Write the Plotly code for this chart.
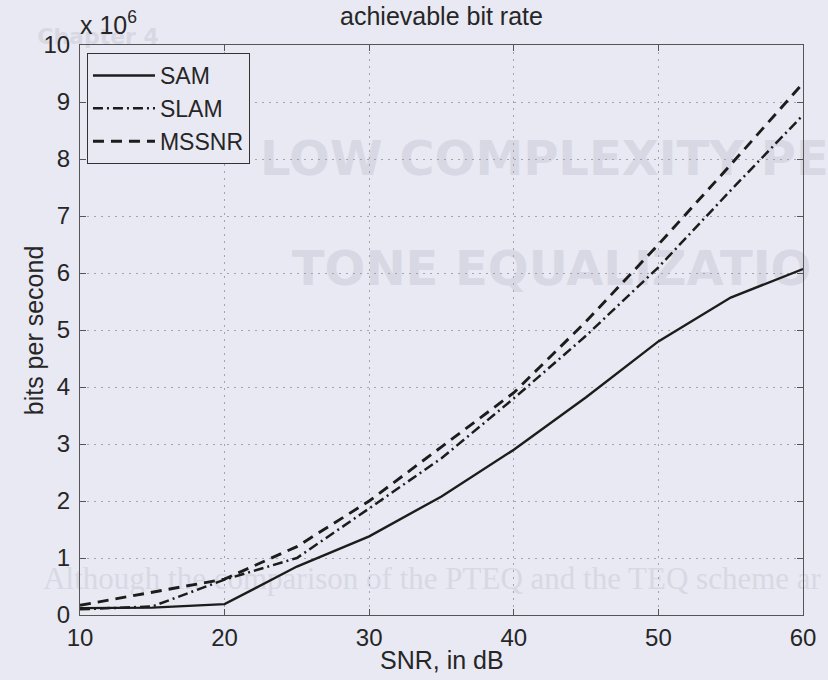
import plotly.graph_objects as go

# Achievable bit rate versus SNR (values in units of 10^6 bits per second)
snr_db = [10, 15, 20, 25, 30, 35, 40, 45, 50, 55, 60]
rate_sam = [0.12, 0.13, 0.19, 0.85, 1.38, 2.08, 2.90, 3.82, 4.80, 5.57, 6.07]
rate_slam = [0.10, 0.15, 0.62, 1.00, 1.87, 2.75, 3.80, 4.90, 6.10, 7.45, 8.77]
rate_mssnr = [0.17, 0.40, 0.63, 1.20, 2.00, 2.95, 3.90, 5.15, 6.50, 7.90, 9.33]
series_names = ["SAM", "SLAM", "MSSNR"]
x_ticks = [10, 20, 30, 40, 50, 60]
y_ticks = list(range(0, 11))
scale_exponent = 6

W, H = 828, 680
L, R, T, B = 80, 21, 45, 65
PW, PH = W - L - R, H - T - B

BG = "#e9e9f3"
INK = "#262626"
AXIS = "#555555"
GHOST = "#d8d8e4"
FONT = "Liberation Sans, Arial, sans-serif"


def px_x(px):
    return (px - L) / PW


def px_y(py):
    return (H - B - py) / PH


fig = go.Figure()

styles = [
    dict(color="#1c1c1c", width=2.4, dash="solid"),
    dict(color="#1c1c1c", width=2.5, dash="10px,4px,2px,4px"),
    dict(color="#1c1c1c", width=2.9, dash="11px,7px"),
]
for name, ys, st in zip(series_names, [rate_sam, rate_slam, rate_mssnr], styles):
    fig.add_trace(go.Scatter(x=snr_db, y=ys, name=name, mode="lines", line=st))


# faint show-through text from the page behind the figure
def ghost(text, left, center_y, size, family, weight="normal"):
    fig.add_shape(
        type="rect", xref="paper", yref="paper",
        x0=px_x(left), x1=px_x(left + 10),
        y0=px_y(center_y + 2), y1=px_y(center_y - 2),
        line=dict(width=0), fillcolor="rgba(0,0,0,0)", layer="below",
        label=dict(text=text, textposition="middle left", padding=0,
                   font=dict(size=size, family=family, color=GHOST, weight=weight)),
    )


ghost("Chapter 4", 34, 34, 22, "DejaVu Sans", "bold")
ghost("LOW COMPLEXITY PE", 258, 155, 48, "DejaVu Sans", "bold")
ghost("TONE EQUALIZATIO", 290, 265, 48, "DejaVu Sans", "bold")
ghost("Although the comparison of the PTEQ and the TEQ scheme ar", 40, 575, 31,
      "Liberation Serif, serif")

axis_common = dict(
    showline=True, linecolor=AXIS, linewidth=1, mirror="ticks",
    ticks="inside", ticklen=6, tickcolor=AXIS, tickwidth=1,
    showgrid=True, gridcolor="#a4a4b0", griddash="2px,5px", gridwidth=1,
    zeroline=False, tickfont=dict(size=24, color=INK, family=FONT),
)

fig.update_xaxes(range=[10, 60], tickvals=x_ticks, ticktext=[str(v) for v in x_ticks],
                 ticklabelstandoff=1, **axis_common)
fig.update_yaxes(range=[0, 10], tickvals=y_ticks, ticktext=[str(v) for v in y_ticks],
                 ticklabelstandoff=4, **axis_common)

fig.add_annotation(text="SNR, in dB", xref="paper", yref="paper", x=0.5, y=px_y(660),
                   xanchor="center", yanchor="middle", showarrow=False,
                   font=dict(size=25, color=INK, family=FONT))
fig.add_annotation(text="bits per second", xref="paper", yref="paper", x=px_x(34), y=0.5,
                   xanchor="center", yanchor="middle", textangle=-90, showarrow=False,
                   font=dict(size=25, color=INK, family=FONT))
fig.add_annotation(text=f"x 10<sup>{scale_exponent}</sup>", xref="paper", yref="paper",
                   x=px_x(78), y=px_y(41), xanchor="left", yanchor="bottom",
                   showarrow=False, font=dict(size=25, color=INK, family=FONT))

fig.update_layout(
    width=W, height=H,
    margin=dict(l=L, r=R, t=T, b=B),
    paper_bgcolor=BG, plot_bgcolor="rgba(0,0,0,0)",
    font=dict(family=FONT, size=24, color=INK),
    title=dict(text="achievable bit rate", xref="paper", x=0.5, xanchor="center",
               yref="container", y=1 - 16 / H, yanchor="middle",
               font=dict(size=25, color=INK, family=FONT)),
    showlegend=True,
    legend=dict(x=px_x(87), y=px_y(53), xanchor="left", yanchor="top",
                bgcolor=BG, bordercolor="#333333", borderwidth=1,
                font=dict(size=23, color=INK, family=FONT), tracegroupgap=0,
                itemwidth=62),
)

fig.write_html("out.html")
